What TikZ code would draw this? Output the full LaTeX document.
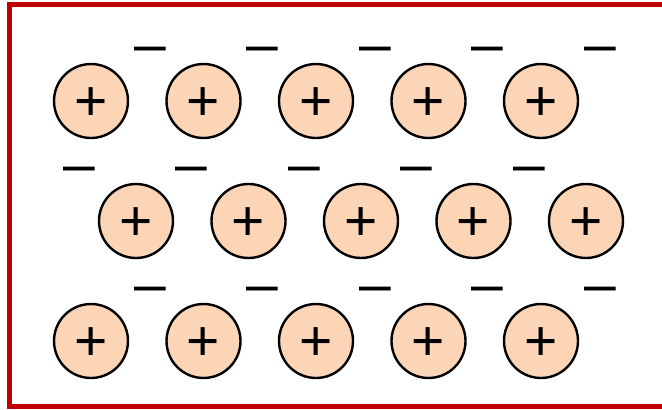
\documentclass[tikz,border=0pt]{standalone}
\usepackage{fontspec}
\setmainfont{Liberation Sans}
\usepackage{tikz}
\definecolor{framered}{RGB}{192,0,0}
\definecolor{ionpeach}{RGB}{251,213,181}
\tikzset{
  frame/.style={draw=framered, line width=5pt},
  ion/.style={circle, draw=black, fill=ionpeach, line width=2.4pt,
    minimum size=74pt, inner sep=0pt, font=\fontsize{57}{57}\selectfont,
    text height=39.9pt, text depth=0pt},
  electron/.style={inner sep=0pt, font=\fontsize{57}{57}\selectfont,
    text height=29.6pt, text depth=0pt},
}
\begin{document}
\begin{tikzpicture}[x=1pt,y=-1pt]
\useasboundingbox (0,0) rectangle (662,410);
\clip (0,0) rectangle (662,410);
% metal frame
\draw[frame] (9.5,4.5) rectangle (690,406);
% first row of ions
\node[ion] (ion11) at (91,101) {+};
\node[ion] (ion12) at (203.5,101) {+};
\node[ion] (ion13) at (316,101) {+};
\node[ion] (ion14) at (428.5,101) {+};
\node[ion] (ion15) at (541,101) {+};
% second row of ions
\node[ion] (ion21) at (136,221) {+};
\node[ion] (ion22) at (248.5,221) {+};
\node[ion] (ion23) at (361,221) {+};
\node[ion] (ion24) at (473.5,221) {+};
\node[ion] (ion25) at (586,221) {+};
% third row of ions
\node[ion] (ion31) at (91,341) {+};
\node[ion] (ion32) at (203.5,341) {+};
\node[ion] (ion33) at (316,341) {+};
\node[ion] (ion34) at (428.5,341) {+};
\node[ion] (ion35) at (541,341) {+};
% free electrons
\node[electron] (el11) at (150,49) {–};
\node[electron] (el12) at (262.5,49) {–};
\node[electron] (el13) at (375,49) {–};
\node[electron] (el14) at (487.5,49) {–};
\node[electron] (el15) at (600,49) {–};
\node[electron] (el21) at (79,169) {–};
\node[electron] (el22) at (191.5,169) {–};
\node[electron] (el23) at (304,169) {–};
\node[electron] (el24) at (416.5,169) {–};
\node[electron] (el25) at (529,169) {–};
\node[electron] (el31) at (150,289) {–};
\node[electron] (el32) at (262.5,289) {–};
\node[electron] (el33) at (375,289) {–};
\node[electron] (el34) at (487.5,289) {–};
\node[electron] (el35) at (600,289) {–};
\end{tikzpicture}
\end{document}
